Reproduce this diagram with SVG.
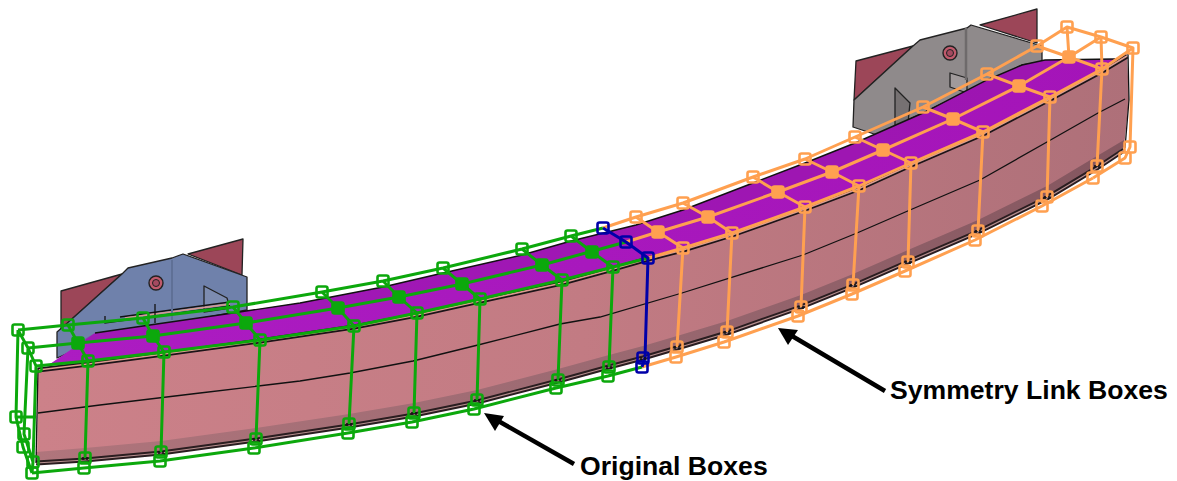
<svg xmlns="http://www.w3.org/2000/svg" width="1177" height="481" viewBox="0 0 1177 481">
<style>
.ol{stroke:#222;stroke-width:1.3;stroke-linejoin:round}
.k{fill:none;stroke:#111;stroke-width:1.3}
.w{fill:none;stroke-width:3;stroke-linejoin:round}
.g{stroke:#0ca80c}.o{stroke:#ffa050}.b{stroke:#0000a8}
.bx{fill:none;stroke-width:2.6}
.mg{fill:#0ca80c}.mo{fill:#ffa050}
.lbl{font-family:"Liberation Sans",Arial,sans-serif;font-weight:bold;font-size:26.6px;fill:#000}
.ar{stroke:#000;stroke-width:4.5;fill:none}
</style>
<defs>
<linearGradient id="face" x1="0" x2="1" y1="0" y2="0"><stop offset="0" stop-color="#cc8189"/><stop offset=".5" stop-color="#c27b83"/><stop offset="1" stop-color="#ae7079"/></linearGradient>
<linearGradient id="band" x1="0" x2="1" y1="0" y2="0"><stop offset="0" stop-color="#b0757c"/><stop offset=".5" stop-color="#9c6a72"/><stop offset="1" stop-color="#84565f"/></linearGradient>
<linearGradient id="top" x1="0" x2="1" y1="0" y2="0"><stop offset="0" stop-color="#ac1cc2"/><stop offset="1" stop-color="#a414b8"/></linearGradient>
<rect id="s" x="-5.5" y="-5.5" width="11" height="11" rx="2"/>
<g id="t"><rect x="-5.5" y="-5.5" width="11" height="11" rx="2"/><path d="M-2 -1V2M2 -1V2" stroke="#111" stroke-width="1.5"/></g>
</defs>
<rect width="1177" height="481" fill="#fff"/>

<g id="bracket-left">
<polygon class="ol" fill="#9c4658" points="61,291 122,274 73,318 61,330"/>
<polygon class="ol" fill="#9c4658" points="188,254 243,239 242,275"/>
<polygon class="ol" fill="#6f81ab" points="73,318 122,274 128,268 172,258 183,254 247,277 247,310 110,335 57,358 57,332"/>
<polygon class="ol" fill="#7d8cb0" points="204,286 227,298 230,308 204,312"/>
<path d="M105,316V323L230,306M120,317L230,302" fill="none" stroke="#111" stroke-width="1.3"/>
<path d="M125,318L230,304" fill="none" stroke="#d89a90" stroke-width="1.6"/>
<path class="k" d="M155,304V323"/>
<path d="M172,260V320" stroke="#5f7096" stroke-width="2"/>
<ellipse cx="156" cy="283" rx="7" ry="7" fill="#c05a6c" stroke="#222" stroke-width="1.4"/>
<ellipse cx="156" cy="283" rx="3.5" ry="3.5" fill="#a54a60" stroke="#222"/>
</g>
<g id="bracket-right">
<polygon class="ol" fill="#9c4658" points="856,61 913,46 854,100"/>
<polygon class="ol" fill="#9c4658" points="980,25 1037,9 1037,43"/>
<polygon class="ol" fill="#8f8a8b" points="854,100 913,46 920,40 967,28 971,25 1042,46 1042,62 1022,65 877,135 853,127"/>
<polygon class="ol" fill="#767172" points="895,88 910,103 908,123 895,128"/>
<polygon class="ol" fill="#a09a9b" points="950,73 967,78 967,93 950,87"/>
<path d="M966,28V80" stroke="#6e6a6b" stroke-width="2.5"/>
<ellipse cx="950" cy="53" rx="7" ry="7" fill="#c05a6c" stroke="#222" stroke-width="1.4"/>
<ellipse cx="950" cy="53" rx="3.5" ry="3.5" fill="#a54a60" stroke="#222"/>
</g>

<g id="beam">
<polygon fill="url(#top)" points="50,364 95,333 143,326 233,313 300,303 383,287 443,273 522,255 571,241 636,225 683,210 753,183 805,163 855,143 923,113 987,80 1022,65 1045,60 1115,59 1127,56 1102,71 1050,99 983,134 911,165 858,189 805,209 732,235 683,250 648,259 613,269 562,283 480,301 417,315 354,327 260,341 164,354 88,364"/>
<path fill="#9416a8" fill-opacity=".45" d="M95,333L143,326L233,313L300,303L383,287L443,273L522,255L571,241L636,225L683,210L753,183L805,163L855,143L923,113L987,80L1022,65L1045,60L1060,60L1019,86L953,119L883,150L832,172L778,192L708,217L658,232L626,242L593,251L542,265L462,284L399,297L338,308L246,323L153,336L78,343Z"/>
<polyline points="95,333 143,326 233,313 300,303 383,287 443,273 522,255 571,241 636,225 683,210 753,183 805,163 855,143 923,113 987,80 1022,65 1045,60 1115,59" fill="none" stroke="#111" stroke-width="1.4"/>
<polygon fill="url(#face)" points="38,368 88,362 164,352 260,339 354,325 417,313 480,299 562,281 613,267 648,257 683,248 732,233 805,207 858,187 911,163 983,132 1050,97 1102,69 1127,54 1129,100 1124,147 1097,165 1047,195 978,229 908,259 853,283 801,304 727,330 677,345 643,355 609,364 558,378 477,399 414,412 349,423 256,437 161,450 85,457 37,460"/>
<polygon fill="url(#band)" points="36,452 85,448 161,441 256,428 349,414 414,403 477,390 558,369 609,355 643,346 677,336 727,321 801,295 853,274 908,250 978,220 1047,186 1097,156 1124,140 1124,147 1097,167 1047,198 978,232 908,262 853,286 801,307 727,333 677,348 643,358 609,367 558,381 477,402 414,415 349,426 256,440 161,453 85,460 36,463"/>
<polyline points="36,463 85,460 161,453 256,440 349,426 414,415 477,402 558,381 609,367 643,358 677,348 727,333 801,307 853,286 908,262 978,232 1047,198 1097,168 1124,150" fill="none" stroke="#2a1d20" stroke-width="5"/>
<polyline points="36,463 85,460 161,453 256,440 349,426 414,415 477,402 558,381 609,367 643,358 677,348 727,333 801,307 853,286 908,262 978,232 1047,198 1097,168 1124,150" fill="none" stroke="#b89090" stroke-width="1.2"/>
<polyline points="38,370 88,364 164,354 260,341 354,327 417,315 480,301 562,283 613,269 648,259 683,250 732,235 805,209 858,189 911,165 983,134 1050,99 1102,71 1127,56" fill="none" stroke="#1c1418" stroke-width="5"/>
<polyline points="38,370 88,364 164,354 260,341 354,327 417,315 480,301 562,283 613,269 648,259 683,250 732,235 805,209 858,189 911,165 983,134 1050,99 1102,71 1127,56" fill="none" stroke="#dc9c90" stroke-width="1.6"/>
<polyline class="k" points="38,413 100,405 200,393 300,381 350,373 413,361 478,345 560,324 600,317 682,293 803,255 857,233 910,210 980,180 1047,142 1098,113 1125,99"/>
<polyline class="k" points="38,368 36,463"/>
<polyline class="k" points="1128,54 1129,100 1125,148"/>
</g>

<g id="connectors">
<g class="g w">
<polyline points="18,330 68,325 143,318 233,307 322,292 383,281 443,268 522,249 571,236 603,228"/>
<polyline points="28,348 78,343 153,336 246,323 338,308 399,297 462,284 542,265 593,251 626,242"/>
<polyline points="36,366 88,361 164,352 260,340 354,326 417,313 480,299 562,280 613,267 648,258"/>
<polyline points="32,473 84,468 160,461 254,448 348,433 412,422 474,409 556,388 608,376 642,367"/>
<path d="M68,325L78,343L88,361L85,458M143,318L153,336L164,352L161,452M233,307L246,323L260,340L256,439M322,292L338,308L354,326L349,424M383,281L399,297L417,313L414,413M443,268L462,284L480,299L477,400M522,249L542,265L562,280L558,380M571,236L592,252L613,267L609,367"/>
<path d="M18,330L16,417L23,447L32,473M28,348L24,434L33,462M36,366L33,462L32,473M16,417H36M18,330L28,348L36,366"/>
</g>
<g class="o w">
<polyline points="603,228 636,217 683,203 753,177 805,159 855,137 923,107 987,74 1037,46 1067,27 1101,37 1133,48 1130,147 1125,158 1093,178"/>
<polyline points="626,242 658,232 708,217 778,192 832,172 883,150 953,119 1019,86 1069,57 1101,37"/>
<polyline points="648,258 683,248 732,233 805,207 859,186 911,163 983,132 1050,97 1102,69 1133,48"/>
<polyline points="642,367 676,357 724,342 798,316 852,294 905,271 975,240 1042,206 1093,178"/>
<path d="M636,217L658,232L683,248L677,347M683,203L708,217L732,233L727,332M753,177L778,192L805,207L801,307M805,159L832,172L859,186L853,285M855,137L883,150L911,163L908,262M923,107L953,119L983,132L978,231M987,74L1019,86L1050,97L1047,197M1037,46L1069,57L1102,69L1097,166M1067,27L1069,57M1101,37L1102,69"/>
</g>
<g class="b w">
<polyline points="603,228 626,242 648,258 645,358 642,367"/>
</g>
<line class="ar" x1="574" y1="464" x2="493" y2="418"/>
<path d="M484,413L504,416L495,431Z"/>
<line class="ar" x1="885" y1="391" x2="787" y2="333"/>
<path d="M778,328L798,330L788,345Z"/>
</g>

<g id="boxes-green" class="bx g">
<use href="#s" x="18" y="330"/><use href="#s" x="68" y="325"/><use href="#s" x="143" y="318"/><use href="#s" x="233" y="307"/><use href="#s" x="322" y="292"/><use href="#s" x="383" y="281"/><use href="#s" x="443" y="268"/><use href="#s" x="522" y="249"/><use href="#s" x="571" y="236"/>
<use href="#s" x="28" y="348"/><use href="#s" x="78" y="343" class="mg"/><use href="#s" x="153" y="336" class="mg"/><use href="#s" x="246" y="323" class="mg"/><use href="#s" x="338" y="308" class="mg"/><use href="#s" x="399" y="297" class="mg"/><use href="#s" x="462" y="284" class="mg"/><use href="#s" x="542" y="265" class="mg"/><use href="#s" x="592" y="252" class="mg"/>
<use href="#s" x="36" y="366"/><use href="#s" x="88" y="361"/><use href="#s" x="164" y="352"/><use href="#s" x="260" y="340"/><use href="#s" x="354" y="326"/><use href="#s" x="417" y="313"/><use href="#s" x="480" y="299"/><use href="#s" x="562" y="280"/><use href="#s" x="613" y="267"/>
<use href="#t" x="85" y="458"/><use href="#t" x="161" y="452"/><use href="#t" x="256" y="439"/><use href="#t" x="349" y="424"/><use href="#t" x="414" y="413"/><use href="#t" x="477" y="400"/><use href="#t" x="558" y="380"/><use href="#t" x="609" y="367"/>
<use href="#s" x="32" y="473"/><use href="#s" x="84" y="468"/><use href="#s" x="160" y="461"/><use href="#s" x="254" y="448"/><use href="#s" x="348" y="433"/><use href="#s" x="412" y="422"/><use href="#s" x="474" y="409"/><use href="#s" x="556" y="388"/><use href="#s" x="608" y="376"/>
<use href="#s" x="16" y="417"/><use href="#s" x="23" y="447"/><use href="#s" x="24" y="434"/><use href="#s" x="33" y="462"/>
</g>
<g id="boxes-orange" class="bx o">
<use href="#s" x="636" y="217"/><use href="#s" x="683" y="203"/><use href="#s" x="753" y="177"/><use href="#s" x="805" y="159"/><use href="#s" x="855" y="137"/><use href="#s" x="923" y="107"/><use href="#s" x="987" y="74"/><use href="#s" x="1037" y="46"/><use href="#s" x="1067" y="27"/><use href="#s" x="1101" y="37"/><use href="#s" x="1133" y="48"/>
<use href="#s" x="658" y="232" class="mo"/><use href="#s" x="708" y="217" class="mo"/><use href="#s" x="778" y="192" class="mo"/><use href="#s" x="832" y="172" class="mo"/><use href="#s" x="883" y="150" class="mo"/><use href="#s" x="953" y="119" class="mo"/><use href="#s" x="1019" y="86" class="mo"/><use href="#s" x="1069" y="57" class="mo"/>
<use href="#s" x="683" y="248"/><use href="#s" x="732" y="233"/><use href="#s" x="805" y="207"/><use href="#s" x="859" y="186"/><use href="#s" x="911" y="163"/><use href="#s" x="983" y="132"/><use href="#s" x="1050" y="97"/><use href="#s" x="1102" y="69"/>
<use href="#t" x="677" y="347"/><use href="#t" x="727" y="332"/><use href="#t" x="801" y="307"/><use href="#t" x="853" y="285"/><use href="#t" x="908" y="262"/><use href="#t" x="978" y="231"/><use href="#t" x="1047" y="197"/><use href="#t" x="1097" y="166"/>
<use href="#s" x="676" y="357"/><use href="#s" x="724" y="342"/><use href="#s" x="798" y="316"/><use href="#s" x="852" y="294"/><use href="#s" x="905" y="271"/><use href="#s" x="975" y="240"/><use href="#s" x="1042" y="206"/><use href="#s" x="1093" y="178"/>
<use href="#s" x="1125" y="158"/><use href="#s" x="1130" y="147"/>
</g>
<g id="boxes-blue" class="bx b">
<use href="#s" x="603" y="228"/><use href="#s" x="626" y="242"/><use href="#s" x="648" y="258"/><use href="#t" x="643" y="358"/><use href="#s" x="642" y="367"/>
</g>

<g id="labels">
<text class="lbl" x="890" y="399">Symmetry Link Boxes</text>
<text class="lbl" x="580" y="475">Original Boxes</text>
</g>
</svg>
